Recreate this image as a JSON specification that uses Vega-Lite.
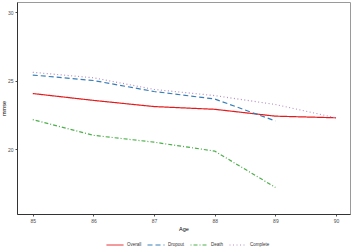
{
  "$schema": "https://vega.github.io/schema/vega-lite/v6.json",
  "autosize": "none",
  "width": 333,
  "height": 212,
  "padding": {"left": 17, "top": 2, "right": 4, "bottom": 37},
  "background": "white",
  "config": {
    "view": {"stroke": "#9a9a9a", "strokeWidth": 1},
    "font": "Liberation Sans",
    "axis": {"grid": false, "labelFontSize": 5, "labelColor": "#4d4d4d", "tickColor": "#4d4d4d", "tickSize": 2, "domainColor": "#333333", "titleFontSize": 5.5, "titleFontWeight": "normal", "titleColor": "#000000", "labelPadding": 2}
  },
  "data": {"values": [
    {"age": 85, "mmse": 24.05, "group": "Overall"},
    {"age": 86, "mmse": 23.55, "group": "Overall"},
    {"age": 87, "mmse": 23.1, "group": "Overall"},
    {"age": 88, "mmse": 22.9, "group": "Overall"},
    {"age": 89, "mmse": 22.4, "group": "Overall"},
    {"age": 90, "mmse": 22.28, "group": "Overall"},
    {"age": 85, "mmse": 25.4, "group": "Dropout"},
    {"age": 86, "mmse": 25.0, "group": "Dropout"},
    {"age": 87, "mmse": 24.2, "group": "Dropout"},
    {"age": 88, "mmse": 23.65, "group": "Dropout"},
    {"age": 89, "mmse": 22.05, "group": "Dropout"},
    {"age": 85, "mmse": 22.15, "group": "Death"},
    {"age": 86, "mmse": 21.0, "group": "Death"},
    {"age": 87, "mmse": 20.5, "group": "Death"},
    {"age": 88, "mmse": 19.85, "group": "Death"},
    {"age": 89, "mmse": 17.2, "group": "Death"},
    {"age": 85, "mmse": 25.6, "group": "Complete"},
    {"age": 86, "mmse": 25.2, "group": "Complete"},
    {"age": 87, "mmse": 24.35, "group": "Complete"},
    {"age": 88, "mmse": 23.9, "group": "Complete"},
    {"age": 89, "mmse": 23.25, "group": "Complete"},
    {"age": 90, "mmse": 22.28, "group": "Complete"}
  ]},
  "mark": {"type": "line", "strokeWidth": 1.2},
  "encoding": {
    "x": {"field": "age", "type": "quantitative", "title": "Age",
      "scale": {"domain": [84.74, 90.23], "nice": false, "zero": false},
      "axis": {"values": [85, 86, 87, 88, 89, 90], "titlePadding": 3}},
    "y": {"field": "mmse", "type": "quantitative", "title": "mmse",
      "scale": {"domain": [15.26, 30.73], "nice": false, "zero": false},
      "axis": {"values": [20, 25, 30], "titlePadding": 1}},
    "color": {"field": "group", "type": "nominal", "title": null,
      "scale": {"domain": ["Overall", "Dropout", "Death", "Complete"], "range": ["#E41A1C", "#377EB8", "#4DAF4A", "#B48CC4"]},
      "legend": {"orient": "none", "legendX": 89, "legendY": 234, "direction": "horizontal", "symbolType": "stroke", "symbolSize": 289, "symbolStrokeWidth": 1, "labelFontSize": 4.5, "labelColor": "#333333", "columnPadding": 3, "labelOffset": 3, "symbolOffset": 0}},
    "strokeDash": {"field": "group", "type": "nominal",
      "scale": {"domain": ["Overall", "Dropout", "Death", "Complete"], "range": [[1, 0], [5, 3], [1, 2, 4, 2], [1, 2.5]]}}
  }
}
